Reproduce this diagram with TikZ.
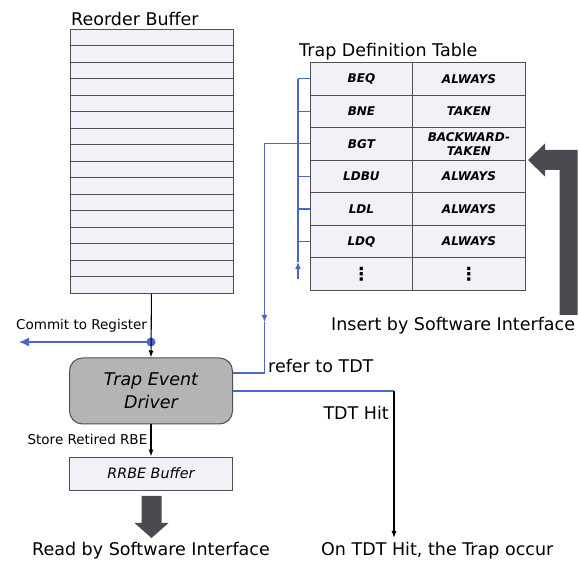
\documentclass[tikz,border=0pt]{standalone}
\usepackage{fontspec}
\setmainfont{DejaVu Sans}
\usetikzlibrary{arrows.meta}

\definecolor{linkblue}{RGB}{72,104,196}
\definecolor{cellfill}{RGB}{242,241,247}
\definecolor{cellline}{RGB}{80,80,84}
\definecolor{tedfill}{RGB}{180,180,182}
\definecolor{bigarrow}{RGB}{74,74,80}

\newcommand{\tdtdots}{{\fontsize{18}{18}\selectfont ⋮}}

\tikzset{
  bigtext/.style={font=\fontsize{17.5}{21}\selectfont, inner sep=0pt},
  smalltext/.style={font=\fontsize{13.5}{16}\selectfont, inner sep=0pt},
  robbox/.style={draw=cellline, fill=cellfill, line width=0.9pt, inner sep=0pt},
  robline/.style={draw=cellline, line width=0.9pt},
  tdtcell/.style={draw=cellline, fill=cellfill, line width=0.9pt, inner sep=0pt,
    align=center, font=\fontsize{12}{14}\selectfont\bfseries\itshape},
  tedbox/.style={draw=cellline, fill=tedfill, line width=1pt, rounded corners=13pt,
    align=center, font=\fontsize{17.5}{23.3}\selectfont\itshape},
  rrbebox/.style={draw=cellline, fill=cellfill, line width=0.9pt,
    font=\fontsize{14.3}{17}\selectfont\itshape},
  blueline/.style={draw=linkblue, line width=1.1pt},
  bluetip/.style={blueline, -{Latex[length=7pt,width=6pt]}},
  blackarrow/.style={draw=black, line width=1.1pt, -{Latex[length=7pt,width=5pt]}},
}

\begin{document}
\begin{tikzpicture}[x=1pt, y=-1pt]
  \useasboundingbox (0,0) rectangle (579,561);

  % reorder buffer
  \node[bigtext, anchor=base west] (robtitle) at (71,25.7) {Reorder Buffer};
  \node[robbox, minimum width=163, minimum height=264, anchor=north west] (rob) at (69.5,29) {};
  \foreach \i in {1,...,15}
    \draw[robline] (69.5,{29+\i*16.5}) -- (232.5,{29+\i*16.5});

  % trap definition table
  \node[bigtext, anchor=base west] (tdttitle) at (299,57) {Trap Definition Table};
  \foreach \op/\cond [count=\i] in {BEQ/ALWAYS, BNE/TAKEN, BGT/{BACKWARD-\\TAKEN},
      LDBU/ALWAYS, LDL/ALWAYS, LDQ/ALWAYS, \tdtdots/\tdtdots} {
    \node[tdtcell, minimum width=102, minimum height=32.57, anchor=north west]
      (op\i) at (310,{62+(\i-1)*32.57}) {\op};
    \node[tdtcell, minimum width=113, minimum height=32.57, anchor=north west]
      (cond\i) at (412,{62+(\i-1)*32.57}) {\cond};
  }

  % bracket on the table rows
  \coordinate (brk) at (298,279);
  \draw[bluetip] (brk) -- ++(0,-17) coordinate (brkup);
  \draw[blueline] (brkup) -- (brk |- op1.west);
  \foreach \i in {1,...,6}
    \draw[blueline] (brk |- op\i.west) -- (op\i.west);

  % trap event driver and rrbe buffer
  \node[tedbox, minimum width=163, minimum height=66] (ted) at (151,391) {Trap Event\\Driver};
  \node[rrbebox, minimum width=163, minimum height=33] (rrbe) at (151,473.5) {RRBE Buffer};

  % commit to register
  \coordinate (tap) at (151,342);
  \coordinate (commit) at (19,342);
  \draw[blueline, -{Latex[length=10pt,width=9pt]}] (tap) -- (commit);
  \fill[linkblue] (tap) circle (4.5);
  \node[smalltext, anchor=base west] (committxt) at (16,330) {Commit to Register};
  \draw[blackarrow] (rob.south) -- (ted.north);

  % store retired rbe
  \draw[blackarrow] (ted.south) -- (rrbe.north);
  \node[smalltext, anchor=base east] (storetxt) at (147.5,445) {Store Retired RBE};

  % refer to tdt
  \coordinate (refarr) at (264.5,322);
  \coordinate (refc) at (264.5,373);
  \draw[bluetip] (brk |- op3.west) -| (refarr);
  \draw[blueline] (refarr) -- (refc) -- (refc -| ted.east);
  \node[bigtext, anchor=base west] (refertxt) at (268,373) {refer to TDT};

  % tdt hit
  \coordinate (hitc) at (394,391);
  \coordinate (hitend) at (394,538);
  \draw[blueline] (ted.east) -- (hitc);
  \draw[blackarrow] (hitc) -- (hitend);
  \node[bigtext, anchor=base east] (hittxt) at (389,420) {TDT Hit};
  \node[bigtext, anchor=base west] (occurtxt) at (321,555) {On TDT Hit, the Trap occur};

  % software interface arrows
  \fill[bigarrow] (528,160) -- (545,143.5) -- (545,150) -- (577.5,150) -- (577.5,315)
    -- (559.5,315) -- (559.5,170) -- (545,170) -- (545,176.5) -- cycle;
  \node[bigtext, anchor=base west] (inserttxt) at (331,331) {Insert by Software Interface};
  \fill[bigarrow] (141.5,496) -- (161.5,496) -- (161.5,523) -- (168.5,523) -- (151.5,538)
    -- (134.5,523) -- (141.5,523) -- cycle;
  \node[bigtext, anchor=base west] (readtxt) at (32,555) {Read by Software Interface};
\end{tikzpicture}
\end{document}
